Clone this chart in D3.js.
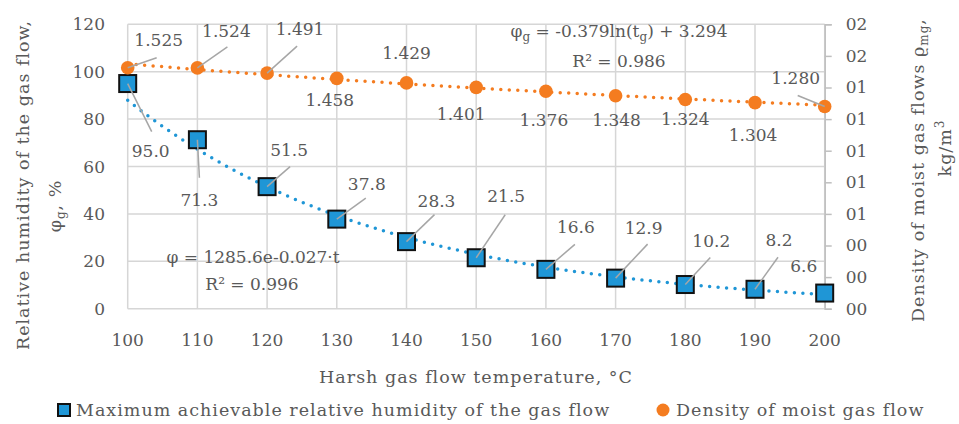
<!DOCTYPE html>
<html>
<head>
<meta charset="utf-8">
<script src="https://cdn.jsdelivr.net/npm/d3@7"></script>
<style>
  body { margin: 0; background: #fff; }
  text { font-family: "DejaVu Serif", serif; fill: #595959; }
  text.word { font-size: 17.5px; letter-spacing: 1px; }
</style>
</head>
<body>
<div id="chart-area"></div>
<script>
// data
var temps = [100, 110, 120, 130, 140, 150, 160, 170, 180, 190, 200];
var humidity = [95.0, 71.3, 51.5, 37.8, 28.3, 21.5, 16.6, 12.9, 10.2, 8.2, 6.6];
var density = [1.525, 1.524, 1.491, 1.458, 1.429, 1.401, 1.376, 1.348, 1.324, 1.304, 1.280];
var leftTicks = [0, 20, 40, 60, 80, 100, 120];
var rightTicks = [0, 0.2, 0.4, 0.6, 0.8, 1.0, 1.2, 1.4, 1.6, 1.8];

// label placement: [dx, dy] of text centre, [lx, ly] end of leader (null = none)
var humLabelPos = [[23, 67, 24, 48], [2, 60, 2, 38], [22, -37, 23, -20], [30, -35, 29, -21],
  [30, -41, 28, -27], [30, -62, 29, -43], [30, -42, 29, -25], [28, -50, 32, -34],
  [26, -44, 25, -27], [24, -49, 23, -32], [-21, -27, null, null]];
var denLabelPos = [[31, -28, 29, -10], [29, -37, 30, -21], [33, -44, 30, -27], [-7, 22, null, null],
  [0, -30, null, null], [-15, 27, null, null], [-2, 29, null, null], [1, 24, null, null],
  [0, 19, null, null], [-2, 32, null, null], [-29, -29, -27, -11]];

var W = 959, H = 424;
var svg = d3.select("#chart-area").append("svg")
    .attr("width", W)
    .attr("height", H);

var x = d3.scaleLinear().domain([100, 200]).range([127.7, 824.7]);
var y = d3.scaleLinear().domain([0, 120]).range([308.7, 24.3]);
var y2 = d3.scaleLinear().domain([0, 1.8]).range([308.7, 24.3]);

var blue = "#1f96d6", orange = "#f47c20", grid = "#d6d6d6";

// grid
svg.append("g").selectAll("line.h").data(leftTicks).enter().append("line")
    .attr("x1", x(100)).attr("x2", x(200))
    .attr("y1", function(d) { return y(d); }).attr("y2", function(d) { return y(d); })
    .attr("stroke", grid).attr("stroke-width", 1.5);
svg.append("g").selectAll("line.v").data(temps).enter().append("line")
    .attr("x1", function(d) { return x(d); }).attr("x2", function(d) { return x(d); })
    .attr("y1", y(0)).attr("y2", y(120))
    .attr("stroke", grid).attr("stroke-width", 1.5);

// left axis labels
svg.append("g").selectAll("text").data(leftTicks).enter().append("text")
    .attr("x", 105).attr("y", function(d) { return y(d); })
    .attr("dy", "0.36em").attr("text-anchor", "end")
    .attr("font-size", "17px").text(function(d) { return d; });

// x axis labels
svg.append("g").selectAll("text").data(temps).enter().append("text")
    .attr("x", function(d) { return x(d); }).attr("y", 346)
    .attr("text-anchor", "middle")
    .attr("font-size", "17px").text(function(d) { return d; });

// right axis
var yAxisRight = d3.axisRight(y2).tickValues(rightTicks).tickSize(7).tickPadding(14)
    .tickFormat(d3.format("02.0f"));
var ra = svg.append("g").attr("transform", "translate(" + x(200) + ",0)").call(yAxisRight);
ra.select(".domain").attr("stroke", "#bfbfbf").attr("stroke-width", 1.5);
ra.selectAll(".tick line").attr("stroke", "#bfbfbf").attr("stroke-width", 1.5);
ra.selectAll(".tick text").attr("font-size", "17px").attr("font-family", "DejaVu Serif")
    .attr("fill", "#595959");

// trend lines fitted from the data
function linFit(xs, ys) {
  var mx = d3.mean(xs), my = d3.mean(ys);
  var sxy = d3.sum(xs, function(v, i) { return (v - mx) * (ys[i] - my); });
  var sxx = d3.sum(xs, function(v) { return (v - mx) * (v - mx); });
  var b = sxy / sxx;
  return {a: my - b * mx, b: b};
}
var expFit = linFit(temps, humidity.map(Math.log));
var logFit = linFit(temps.map(Math.log), density);
var tt = d3.range(100, 200.01, 1);

var line1 = d3.line().x(function(t) { return x(t); })
    .y(function(t) { return y(Math.exp(expFit.a + expFit.b * t)); });
var line2 = d3.line().x(function(t) { return x(t); })
    .y(function(t) { return y2(logFit.a + logFit.b * Math.log(t)); });

svg.append("path").attr("d", line1(tt)).attr("fill", "none")
    .attr("stroke", blue).attr("stroke-width", 3.5)
    .attr("stroke-dasharray", "0,8.5").attr("stroke-linecap", "round");
svg.append("path").attr("d", line2(tt)).attr("fill", "none")
    .attr("stroke", orange).attr("stroke-width", 3.5)
    .attr("stroke-dasharray", "0,8.5").attr("stroke-linecap", "round");

// markers
svg.append("g").selectAll("rect").data(humidity).enter().append("rect")
    .attr("x", function(d, i) { return x(temps[i]) - 8.5; })
    .attr("y", function(d) { return y(d) - 8.5; })
    .attr("width", 17).attr("height", 17)
    .attr("fill", blue).attr("stroke", "#111").attr("stroke-width", 2);
svg.append("g").selectAll("circle").data(density).enter().append("circle")
    .attr("cx", function(d, i) { return x(temps[i]); })
    .attr("cy", function(d) { return y2(d); })
    .attr("r", 6.8).attr("fill", orange);

// leader lines + labels
function drawLabels(vals, pos, sc, fmt) {
  vals.forEach(function(v, i) {
    var px = x(temps[i]), py = sc(v), p = pos[i];
    if (p[2] !== null) {
      svg.append("line")
          .attr("x1", px).attr("y1", py)
          .attr("x2", px + p[2]).attr("y2", py + p[3])
          .attr("stroke", "#a6a6a6").attr("stroke-width", 1.5);
    }
    svg.append("text")
        .attr("x", px + p[0]).attr("y", py + p[1])
        .attr("dy", "0.36em").attr("text-anchor", "middle")
        .attr("font-size", "17px").text(fmt(v));
  });
}
drawLabels(humidity, humLabelPos, y, d3.format(".1f"));
drawLabels(density, denLabelPos, y2, d3.format(".3f"));

// equations
var eq1 = svg.append("text").attr("x", 619).attr("y", 37).attr("text-anchor", "middle").attr("font-size", "17px");
eq1.append("tspan").text("φ");
eq1.append("tspan").attr("font-size", "12px").attr("dy", 4).text("g");
eq1.append("tspan").attr("dy", -4).text(" = -0.379ln(t");
eq1.append("tspan").attr("font-size", "12px").attr("dy", 4).text("g");
eq1.append("tspan").attr("dy", -4).text(") + 3.294");
svg.append("text").attr("x", 619).attr("y", 67).attr("text-anchor", "middle")
    .attr("font-size", "17px").text("R² = 0.986");

svg.append("text").attr("x", 253).attr("y", 263).attr("text-anchor", "middle")
    .attr("font-size", "17px").text("φ = 1285.6e-0.027·t");
svg.append("text").attr("x", 252).attr("y", 290).attr("text-anchor", "middle")
    .attr("font-size", "17px").text("R² = 0.996");

// axis titles
svg.append("text").attr("class", "word").attr("x", 476).attr("y", 383).attr("text-anchor", "middle")
    .text("Harsh gas flow temperature, °C");

svg.append("text").attr("class", "word").attr("transform", "translate(29,185) rotate(-90)")
    .attr("text-anchor", "middle")
    .text("Relative humidity of the gas flow,");
var lt2 = svg.append("text").attr("class", "word").attr("transform", "translate(61,206) rotate(-90)")
    .attr("text-anchor", "middle");
lt2.append("tspan").text("φ");
lt2.append("tspan").attr("font-size", "12px").attr("dy", 4).text("g");
lt2.append("tspan").attr("dy", -4).text(", %");

var rt1 = svg.append("text").attr("class", "word").attr("transform", "translate(924,170) rotate(-90)")
    .attr("text-anchor", "middle");
rt1.append("tspan").text("Density of moist gas flows ϱ");
rt1.append("tspan").attr("font-size", "12px").attr("dy", 4).text("mg");
rt1.append("tspan").attr("dy", -4).text(",");
var rt2 = svg.append("text").attr("class", "word").attr("transform", "translate(951,148) rotate(-90)")
    .attr("text-anchor", "middle");
rt2.append("tspan").text("kg/m");
rt2.append("tspan").attr("font-size", "12px").attr("dy", -7).text("3");

// legend
svg.append("rect").attr("x", 58).attr("y", 404).attr("width", 12).attr("height", 12)
    .attr("fill", blue).attr("stroke", "#111").attr("stroke-width", 2);
svg.append("text").attr("class", "word").attr("x", 76).attr("y", 416)
    .text("Maximum achievable relative humidity of the gas flow");
svg.append("circle").attr("cx", 663).attr("cy", 410).attr("r", 6.5).attr("fill", orange);
svg.append("text").attr("class", "word").attr("x", 676).attr("y", 416)
    .text("Density of moist gas flow");
</script>
</body>
</html>
